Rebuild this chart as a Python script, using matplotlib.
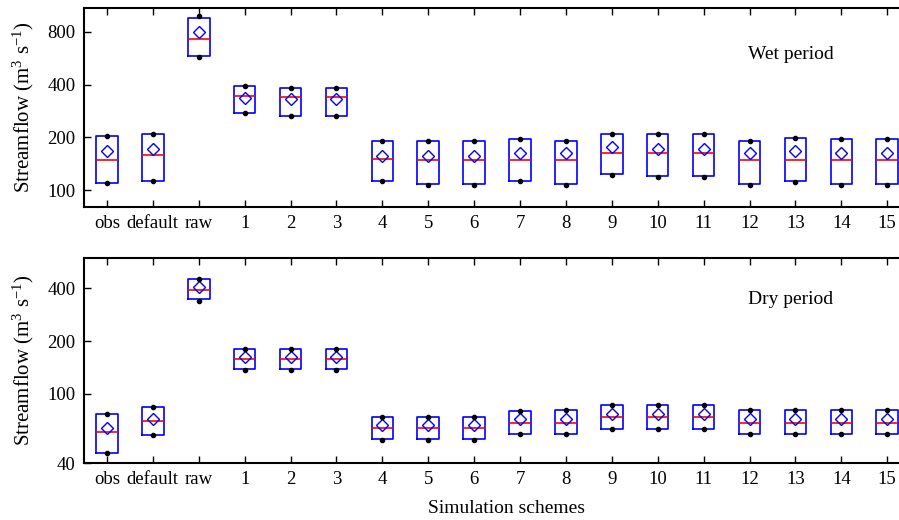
import matplotlib.pyplot as plt
from matplotlib.ticker import FixedLocator, NullLocator, FixedFormatter

plt.rcParams['font.family'] = ['Liberation Serif', 'DejaVu Serif']
plt.rcParams['mathtext.fontset'] = 'custom'
plt.rcParams['mathtext.rm'] = 'Liberation Serif'
plt.rcParams['mathtext.it'] = 'Liberation Serif'

labels = ['obs', 'default', 'raw'] + [str(i) for i in range(1, 16)]

# wet period (box top / bottom, median, mean, dot high / low)
wet_q3 = [204, 209, 961, 392, 384, 384, 191, 191, 191, 195, 191, 210, 210, 210, 191, 199, 195, 195]
wet_q1 = [109, 112, 585, 276, 266, 265, 112, 108, 108, 112, 108, 123, 120, 120, 108, 112, 108, 108]
wet_med = [148, 159, 728, 344, 338, 338, 151, 148, 148, 148, 148, 162, 162, 162, 148, 148, 148, 148]
wet_mean = [168, 172, 799, 337, 332, 330, 157, 157, 157, 162, 162, 175, 172, 172, 162, 166, 162, 162]
wet_hi = [204, 209, 981, 392, 384, 384, 191, 191, 191, 195, 191, 210, 210, 210, 191, 199, 195, 195]
wet_lo = [109, 112, 579, 274, 264, 264, 112, 107, 107, 112, 107, 122, 119, 119, 107, 111, 107, 107]

# dry period
dry_q3 = [76.4, 83.8, 454, 180, 180, 180, 73.4, 73.4, 73.4, 79.2, 80.6, 85.7, 85.7, 85.7, 80.6, 80.6, 80.6, 80.6]
dry_q1 = [45.6, 58.2, 346, 138, 138, 138, 54.7, 54.7, 54.7, 59.0, 59.0, 63.0, 63.0, 63.0, 59.0, 59.0, 59.0, 59.0]
dry_med = [60.0, 69.6, 393, 157, 157, 157, 63.5, 63.5, 63.5, 68.2, 68.2, 73.8, 73.8, 73.8, 68.2, 68.2, 68.2, 68.2]
dry_mean = [63.5, 71.3, 409, 162, 162, 162, 66.4, 66.4, 66.4, 71.3, 71.3, 76.8, 76.8, 76.8, 71.3, 71.3, 71.3, 71.3]
dry_hi = [76.0, 83.5, 454, 180, 180, 180, 73.4, 73.4, 73.4, 79.2, 80.6, 85.7, 85.7, 85.7, 80.6, 80.6, 80.6, 80.6]
dry_lo = [45.6, 57.6, 340, 137, 137, 137, 54.4, 54.4, 54.4, 58.6, 58.6, 62.6, 62.6, 62.6, 58.6, 58.6, 58.6, 58.6]

wet_ticks = [100, 200, 400, 800]
dry_ticks = [40, 100, 200, 400]

fig = plt.figure(figsize=(8.99, 5.2), dpi=100)
ax1 = fig.add_axes([0.0934, 0.602, 0.919, 0.383])
ax2 = fig.add_axes([0.0934, 0.1096, 0.919, 0.394])


def draw(ax, q1, q3, med, mean, lo, hi, ticks, ylim, title, ty):
    pos = list(range(1, len(labels) + 1))
    stats = []
    for i in range(len(labels)):
        stats.append(dict(med=med[i], q1=q1[i], q3=q3[i], whislo=q1[i],
                          whishi=q3[i], mean=mean[i], fliers=[]))
    ax.bxp(stats, positions=pos, widths=0.47, showmeans=True,
           boxprops=dict(color='#0000ff', linewidth=1.2),
           medianprops=dict(color='#ff0000', linewidth=1.2),
           whiskerprops=dict(linestyle='none'),
           capprops=dict(linestyle='none'),
           meanprops=dict(marker='D', markerfacecolor='none',
                          markeredgecolor='#0000ff', markersize=6.5,
                          markeredgewidth=1.0))
    ax.plot(pos, hi, 'o', color='black', markersize=3, zorder=4)
    ax.plot(pos, lo, 'o', color='black', markersize=3, zorder=4)
    ax.set_yscale('log')
    ax.set_ylim(*ylim)
    ax.set_xlim(0.5, 18.5)
    ax.yaxis.set_major_locator(FixedLocator(ticks))
    ax.yaxis.set_major_formatter(FixedFormatter([str(t) for t in ticks]))
    ax.yaxis.set_minor_locator(NullLocator())
    ax.set_xticks(pos)
    ax.set_xticklabels(labels)
    ax.tick_params(axis='both', direction='in', length=5, width=1,
                   labelsize=13.5, colors='black', pad=6)
    ax.tick_params(axis='x', top=True)
    for s in ax.spines.values():
        s.set_linewidth(1.5)
    ax.set_ylabel(r'Streamflow (m$^{3}$ s$^{-1}$)', fontsize=15)
    ax.yaxis.set_label_coords(-0.058, 0.5)
    ax.text(0.804, ty, title, transform=ax.transAxes, fontsize=14,
            va='center', ha='left')


draw(ax1, wet_q1, wet_q3, wet_med, wet_mean, wet_lo, wet_hi,
     wet_ticks, (80, 1100), 'Wet period', 0.764)
draw(ax2, dry_q1, dry_q3, dry_med, dry_mean, dry_lo, dry_hi,
     dry_ticks, (40, 597), 'Dry period', 0.80)

ax2.set_xlabel('Simulation schemes', fontsize=14)
ax2.xaxis.set_label_coords(0.512, -0.18)

fig.savefig('out.png', dpi=100)
